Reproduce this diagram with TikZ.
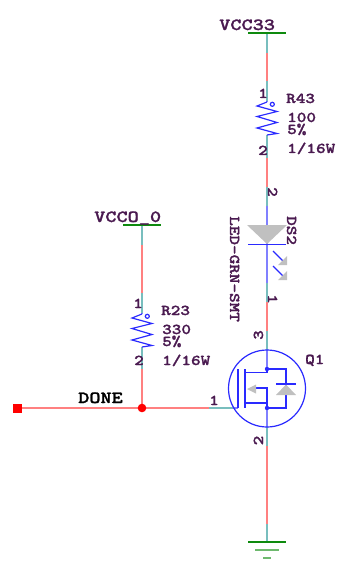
\documentclass[tikz,border=0pt]{standalone}
\usepackage{fontspec}
\newfontfamily\schfont[FakeStretch=1.25,FakeBold=1.4]{LMMonoLt10-Bold}
\newfontfamily\schsmall[FakeStretch=1.22,FakeBold=1.4]{LMMonoLt10-Bold}
\definecolor{netred}{HTML}{FF8080}
\definecolor{pinteal}{HTML}{78BEBE}
\definecolor{symblue}{HTML}{2A2AFF}
\definecolor{bodyblue}{HTML}{8080FF}
\definecolor{symgray}{HTML}{C0C0C0}
\definecolor{pwrgreen}{HTML}{0E8A0E}
\definecolor{lblpurple}{HTML}{4A1A50}
\tikzset{
  net/.style={netred,line width=2.2pt},
  pinwire/.style={pinteal,line width=2.2pt},
  body/.style={bodyblue,line width=2.2pt},
  sym/.style={symblue,line width=1.2pt},
  pwr/.style={pwrgreen,line width=1.3pt},
  pwrlight/.style={pwrgreen!60,line width=2pt},
  bigtxt/.style={lblpurple,inner sep=0pt,anchor=base west,font=\schfont\fontsize{17}{17}\selectfont},
  smalltxt/.style={lblpurple,inner sep=0pt,anchor=base west,font=\schsmall\fontsize{15}{15}\selectfont},
  vertxt/.style={smalltxt,rotate=-90},
  uptxt/.style={smalltxt,rotate=90},
  resistor/.pic={
    \draw[body] (0,0) -- (0,1);
    \draw[sym] (0,1) -- (-10,5) -- (10,10.5) -- (-10,15.5) -- (10,21.5) -- (-10,27) -- (10,32.5) -- (0,34);
    \draw[sym] (5.3,3.3) circle (2);
  }
}
\begin{document}
\begin{tikzpicture}[x=1pt,y=-1pt]
  \useasboundingbox (0,0) rectangle (344,561);

  % right branch
  \coordinate (vcca) at (267,33);
  \coordinate (vccb) at (267,53);
  \coordinate (vccc) at (267,81);
  \coordinate (rfourtop) at (267,101);
  \coordinate (rfourbot) at (267,135);
  \coordinate (rfourd) at (267,158);
  \coordinate (dsa) at (267,187);
  \coordinate (dsb) at (267,206);
  \coordinate (dsc) at (267,283);
  \coordinate (dsd) at (267,302);
  \coordinate (qa) at (267,331);
  \coordinate (qb) at (267,350);
  \coordinate (qdrain) at (267,369);
  \coordinate (qsource) at (267,408);
  \coordinate (qc) at (267,427);
  \coordinate (qd) at (267,446);
  \coordinate (gnda) at (267,524);
  \coordinate (gndb) at (267,542);

  \draw[pinwire] (vcca) -- (vccb);
  \draw[net] (vccb) -- (vccc);
  \draw[pinwire] (vccc) -- (rfourtop);
  \draw[pinwire] (rfourbot) -- (rfourd);
  \draw[net] (rfourd) -- (dsa);
  \draw[pinwire] (dsa) -- (dsb);
  \draw[body] (dsb) -- (dsc);
  \draw[pinwire] (dsc) -- (dsd);
  \draw[net] (dsd) -- (qa);
  \draw[pinwire] (qa) -- (qb);
  \draw[body] (qb) -- (qdrain);
  \draw[body] (qsource) -- (qc);
  \draw[pinwire] (qc) -- (qd);
  \draw[net] (qd) -- (gnda);
  \draw[pinwire] (gnda) -- (gndb);

  % left branch
  \coordinate (vcoa) at (142,225);
  \coordinate (vcob) at (142,245);
  \coordinate (vcoc) at (142,293);
  \coordinate (rtwotop) at (142,313);
  \coordinate (rtwobot) at (142,347);
  \coordinate (rtwod) at (142,369);
  \coordinate (jct) at (142,408);
  \coordinate (donesq) at (17.5,408);
  \coordinate (gatea) at (209,408);
  \coordinate (gateb) at (233,408);
  \coordinate (gatec) at (238,408);

  \draw[pinwire] (vcoa) -- (vcob);
  \draw[net] (vcob) -- (vcoc);
  \draw[pinwire] (vcoc) -- (rtwotop);
  \draw[pinwire] (rtwobot) -- (rtwod);
  \draw[net] (rtwod) -- (jct);
  \draw[net] (donesq) -- (gatea);
  \draw[pinwire] (gatea) -- (gateb);
  \draw[body] (gateb) -- (gatec);
  \fill[red] (jct) circle (4.3);
  \fill[red] (13,403.5) rectangle (22,412.5);

  % power symbols
  \draw[pwr] (248,33) -- (286,33);
  \draw[pwr] (123,225) -- (161,225);
  \draw[pwr] (248,542) -- (286,542);
  \draw[pwrlight] (255,550) -- (279,550);
  \draw[pwrlight] (263,558) -- (271,558);

  % resistors
  \pic at (rfourtop) {resistor};
  \pic at (rtwotop) {resistor};

  % led
  \fill[symgray] (247,225) -- (287,225) -- (267,244) -- cycle;
  \draw[sym] (248,244.5) -- (286,244.5);
  \draw[sym] (273,251) -- (283,261);
  \draw[sym] (273,266) -- (283,276);
  \fill[symgray] (287,256) -- (287,265) -- (278,265) -- cycle;
  \fill[symgray] (287,271) -- (287,280) -- (278,280) -- cycle;

  % mosfet
  \draw[sym] (267,388.5) circle (38.5);
  \draw[sym,line width=1.5pt] (qdrain) -- (286,369) -- (286,408) -- (qsource);
  \draw[sym,line width=1.5pt] (238,369) -- (gatec);
  \draw[sym,line width=2pt] (245,369) -- (245,408);
  \draw[sym,line width=1.5pt] (245,372.5) -- (267,372.5) -- (qdrain);
  \draw[sym,line width=1.5pt] (245,403) -- (267,403) -- (qsource);
  \draw[sym,line width=1.5pt] (255,388) -- (267,388) -- (267,403);
  \fill[symgray] (247,389) -- (256,384.5) -- (256,393.5) -- cycle;
  \draw[sym] (276,384) -- (296,384);
  \fill[symgray] (286,384.5) -- (296,395) -- (276,395) -- cycle;
  \fill[symblue] (qdrain) circle (2.2);
  \fill[symblue] (qsource) circle (2.2);

  % labels
  \node[bigtxt] (vcclbl) at (219,30) {VCC33};
  \node[bigtxt] (vcolbl) at (94,222) {VCCO\_0};
  \node[bigtxt,text=black] (donelbl) at (78,403) {DONE};
  \node[smalltxt] (rfourname) at (286,103) {R43};
  \node[smalltxt] (rfourval) at (287,122) {100};
  \node[smalltxt] (rfourtol) at (287,134) {5\%};
  \node[smalltxt] (rfourpow) at (287,153) {1/16W};
  \node[smalltxt] (rfourpa) at (258,98) {1};
  \node[smalltxt] (rfourpb) at (258,155) {2};
  \node[smalltxt] (rtwoname) at (161,315) {R23};
  \node[smalltxt] (rtwoval) at (162,334) {330};
  \node[smalltxt] (rtwotol) at (162,346) {5\%};
  \node[smalltxt] (rtwopow) at (162,365) {1/16W};
  \node[smalltxt] (rtwopa) at (133,308) {1};
  \node[smalltxt] (rtwopb) at (134,365) {2};
  \node[vertxt] (dspb) at (268,187) {2};
  \node[vertxt] (dspa) at (268,294) {1};
  \node[vertxt] (dsname) at (287,216) {DS2};
  \node[vertxt] (dsval) at (230,216) {LED-GRN-SMT};
  \node[uptxt] (qpc) at (263,340) {3};
  \node[uptxt] (qpb) at (263,445.5) {2};
  \node[smalltxt] (qpa) at (209,405) {1};
  \node[smalltxt] (qname) at (305,364) {Q1};
\end{tikzpicture}
\end{document}
